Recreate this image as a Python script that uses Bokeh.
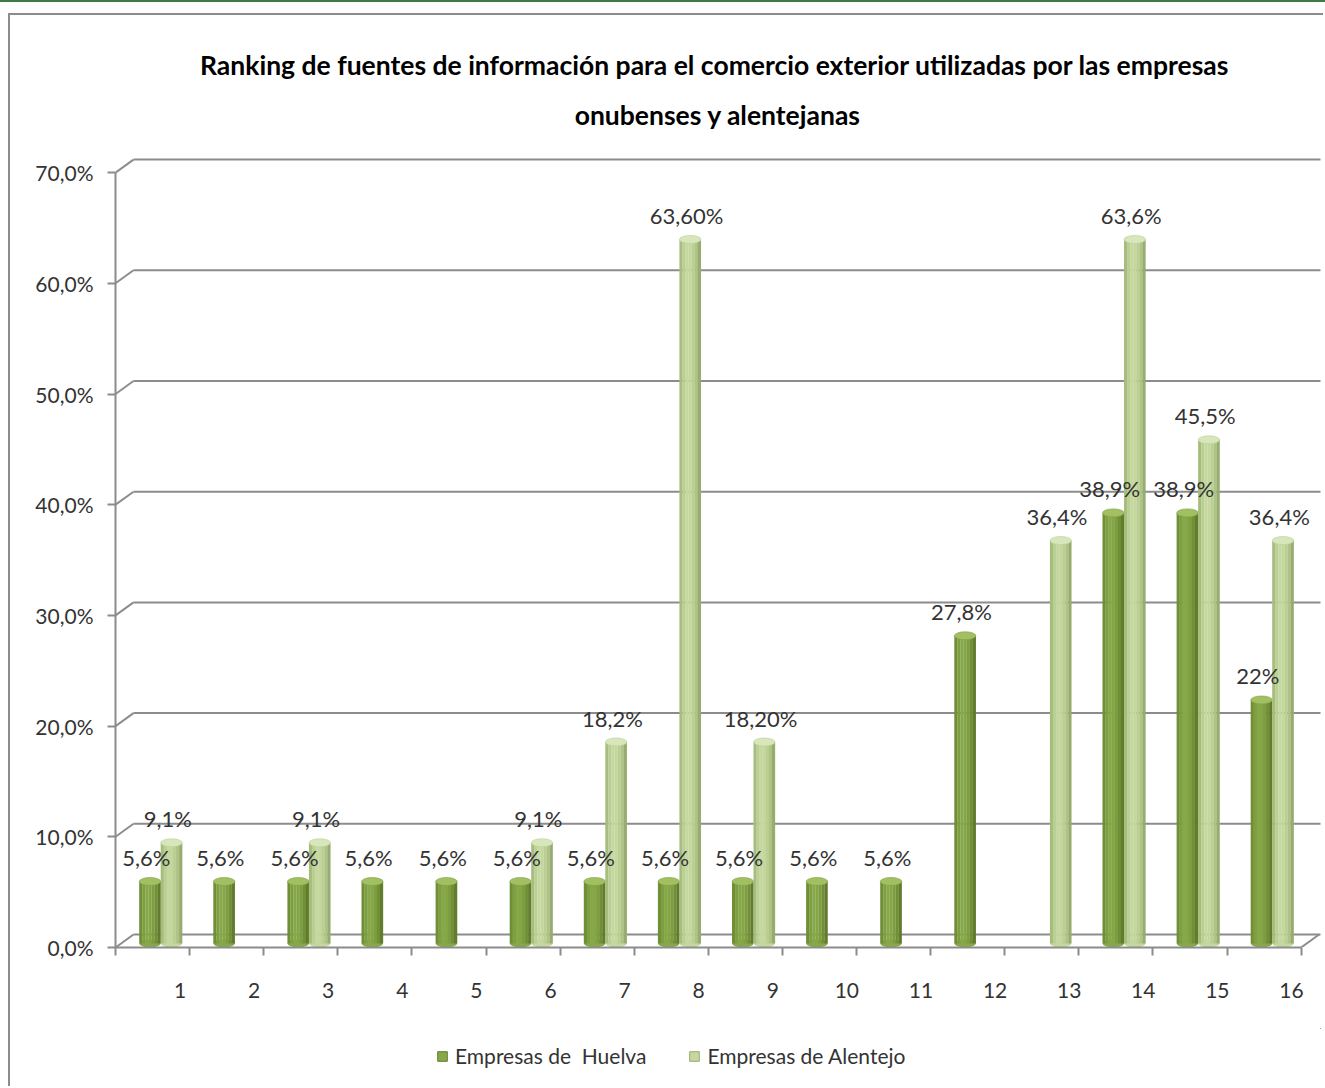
from bokeh.plotting import figure
from bokeh.models import (ColumnDataSource, Range1d, LinearAxis, FixedTicker,
                          Legend, LegendItem, Div, Title)
from bokeh.layouts import column
from bokeh.transform import dodge
from bokeh.embed import file_html
from bokeh.resources import INLINE
from bokeh.core.properties import value

# ---------------- data ----------------
categories = list(range(1, 17))
huelva = [5.6, 5.6, 5.6, 5.6, 5.6, 5.6, 5.6, 5.6, 5.6, 5.6, 5.6, 27.8, None, 38.9, 38.9, 22.0]
alentejo = [9.1, None, 9.1, None, None, 9.1, 18.2, 63.6, 18.2, None, None, None, 36.4, 63.6, 45.5, 36.4]
huelva_labels = ["5,6%", "5,6%", "5,6%", "5,6%", "5,6%", "5,6%", "5,6%", "5,6%", "5,6%",
                 "5,6%", "5,6%", "27,8%", "", "38,9%", "38,9%", "22%"]
alentejo_labels = ["9,1%", "", "9,1%", "", "", "9,1%", "18,2%", "63,60%", "18,20%",
                   "", "", "", "36,4%", "63,6%", "45,5%", "36,4%"]
series_names = ["Empresas de  Huelva", "Empresas de Alentejo"]
y_ticks = [0, 10, 20, 30, 40, 50, 60, 70]
y_tick_labels = ["0,0%", "10,0%", "20,0%", "30,0%", "40,0%", "50,0%", "60,0%", "70,0%"]
title_lines = ["Ranking de fuentes de información para el comercio exterior utilizadas por las  empresas",
               "onubenses y alentejanas"]

# ---------------- styling / geometry ----------------
FONT = "Lato"
TXT = "#333333"
GREY = "#8C8C8C"
BORDER = {"border-left": "2px solid #8C8C8C"}
PX_X = 74.1           # px per category
PX_Y = 11.07          # px per percentage point
W, H = 1315, 1015
ML, MT, MR, MB = 105, 135, 5, 83
frame_w = W - ML - MR
frame_h = H - MT - MB
X0 = 0.13                       # left edge of the front floor, in category units
DEPTH = 18 / PX_X               # 3-D depth offset (x)
BASE_PX = 4                     # bars stand this many px above the front axis
FRONT_OFF = -BASE_PX / PX_Y
BACK_OFF = 9 / PX_Y
BAR_W = 0.29
OFF_H, OFF_A = -0.404, -0.114
NSTRIP = 7
shades_h = ["#6F8F36", "#7E9F41", "#87A849", "#85A647", "#7D9D40", "#718F37", "#607C2C"]
shades_a = ["#A7BD7D", "#BACF93", "#C5D89F", "#C4D79D", "#BBCF93", "#AEC385", "#97AC6F"]
cap_h, cap_a = "#A2C061", "#D8E6BC"

p = figure(width=W, height=H, output_backend="svg", toolbar_location=None, title=None,
           x_axis_location=None, y_axis_location=None,
           x_range=Range1d(X0, X0 + frame_w / PX_X),
           y_range=Range1d(FRONT_OFF, FRONT_OFF + frame_h / PX_Y),
           min_border_left=ML, min_border_top=MT, min_border_right=MR, min_border_bottom=MB,
           margin=(11, 0, 0, 8),
           styles=dict(BORDER, **{"border-top": "2px solid #8C8C8C"}))
p.outline_line_color = None
p.xgrid.visible = False
p.ygrid.visible = False
p.extra_y_ranges = {"front": Range1d(0, frame_h / PX_Y)}

for txt, so, va in ((title_lines[1], 36, "top"), (title_lines[0], 0, "bottom")):
    p.add_layout(Title(text=txt, align="center", vertical_align=va, text_font=FONT,
                       text_font_style="bold", text_font_size="26.5px", text_color="#000000",
                       standoff=so, offset=-8),
                 "above")

# ---------------- 3-D back wall / floor ----------------
x_right = X0 + len(categories)
wall = ColumnDataSource(dict(
    y=[v + BACK_OFF for v in y_ticks],
    yf=[v + FRONT_OFF for v in y_ticks],
))
p.segment(x0=X0 + DEPTH, x1=x_right + DEPTH + 0.03, y0="y", y1="y",
          line_color=GREY, line_width=2, source=wall)
p.segment(x0=X0, x1=X0 + DEPTH, y0="yf", y1="y", line_color=GREY, line_width=2, source=wall)
p.segment(x0=[x_right], x1=[x_right + DEPTH], y0=[FRONT_OFF], y1=[BACK_OFF],
          line_color=GREY, line_width=2)

# ---------------- axes ----------------
yaxis = LinearAxis(y_range_name="front", ticker=FixedTicker(ticks=y_ticks),
                   major_label_overrides={v: s for v, s in zip(y_ticks, y_tick_labels)},
                   bounds=(0, 70))
yaxis.axis_line_color = GREY
yaxis.axis_line_width = 2
yaxis.major_tick_line_color = GREY
yaxis.major_tick_line_width = 2
yaxis.major_tick_in = 0
yaxis.major_tick_out = 8
yaxis.minor_tick_line_color = None
yaxis.major_label_standoff = 14
yaxis.major_label_text_font = FONT
yaxis.major_label_text_font_size = "21px"
yaxis.major_label_text_color = TXT
p.add_layout(yaxis, "left")

xaxis = LinearAxis(ticker=FixedTicker(ticks=categories,
                                      minor_ticks=[X0 + i for i in range(len(categories) + 1)]),
                   major_label_overrides={c: str(c) for c in categories},
                   bounds=(X0, x_right))
xaxis.axis_line_color = GREY
xaxis.axis_line_width = 2
xaxis.major_tick_line_color = None
xaxis.major_tick_in = 0
xaxis.major_tick_out = 0
xaxis.minor_tick_line_color = GREY
xaxis.minor_tick_line_width = 2
xaxis.minor_tick_in = 0
xaxis.minor_tick_out = 8
xaxis.major_label_standoff = 27
xaxis.major_label_text_font = FONT
xaxis.major_label_text_font_size = "21px"
xaxis.major_label_text_color = TXT
p.add_layout(xaxis, "below")


# ---------------- cylinders ----------------
def make_source(vals, labs):
    c, v, l = [], [], []
    for cat, val, lab in zip(categories, vals, labs):
        if val is not None:
            c.append(cat); v.append(val); l.append(lab)
    return ColumnDataSource(dict(cat=c, val=v, lab=l))


def cylinders(src, off, shades, cap):
    sw = BAR_W / NSTRIP
    p.ellipse(x=dodge("cat", off), y=0, width=BAR_W, height=8, height_units="screen",
              fill_color=shades[2], line_color=None, source=src)
    for i, col in enumerate(shades):
        p.vbar(x=dodge("cat", off + (i - (NSTRIP - 1) / 2) * sw), top="val", bottom=0,
               width=sw * 1.05, fill_color=col, line_color=None, source=src)
    p.ellipse(x=dodge("cat", off), y="val", width=BAR_W, height=8, height_units="screen",
              fill_color=cap, line_color=shades[4], line_width=0.6, source=src)


def labels(src, off):
    p.text(x=dodge("cat", off - 0.05), y="val", text="lab", text_align="center",
           text_baseline="middle", y_offset=-24, text_font=value(FONT),
           text_font_size="22px", text_color=TXT, source=src)


src_h = make_source(huelva, huelva_labels)
src_a = make_source(alentejo, alentejo_labels)
cylinders(src_h, OFF_H, shades_h, cap_h)
cylinders(src_a, OFF_A, shades_a, cap_a)
labels(src_h, OFF_H)
labels(src_a, OFF_A)

# ---------------- legend strip (own small canvas below the chart) ----------------
# its frame is aligned with the chart frame by the column layout; the swatch
# renderers use the same sources but lie outside this strip's (empty) view.
LH = 58
pl = figure(width=W, height=LH, output_backend="svg", toolbar_location=None, title=None,
            x_axis_location=None, y_axis_location=None,
            x_range=Range1d(-30, -29), y_range=Range1d(-30, -29),
            min_border_left=0, min_border_right=0, min_border_top=0, min_border_bottom=0,
            margin=(0, 0, 0, 8), styles=BORDER)
pl.outline_line_color = None
pl.xgrid.visible = False
pl.ygrid.visible = False
lr_h = pl.vbar(x="cat", top="val", width=0.3, fill_color=shades_h[2], line_color=shades_h[6],
               source=src_h)
lr_a = pl.vbar(x="cat", top="val", width=0.3, fill_color=shades_a[2], line_color=shades_a[6],
               source=src_a)
legend = Legend(items=[LegendItem(label=series_names[0], renderers=[lr_h]),
                       LegendItem(label=series_names[1], renderers=[lr_a])],
                orientation="horizontal", location=(321, 18),
                border_line_color=None, background_fill_alpha=0,
                label_text_font=FONT, label_text_font_size="21px", label_text_color=TXT,
                glyph_width=12, glyph_height=12, label_standoff=7, spacing=42,
                padding=0, margin=0)
pl.add_layout(legend, "center")

top_line = Div(width=1325, height=2, margin=0, styles={"background-color": "#3E7B3E"})
root = column(top_line, p, pl, spacing=0, margin=0)

open("out.html", "w").write(file_html(root, INLINE))
